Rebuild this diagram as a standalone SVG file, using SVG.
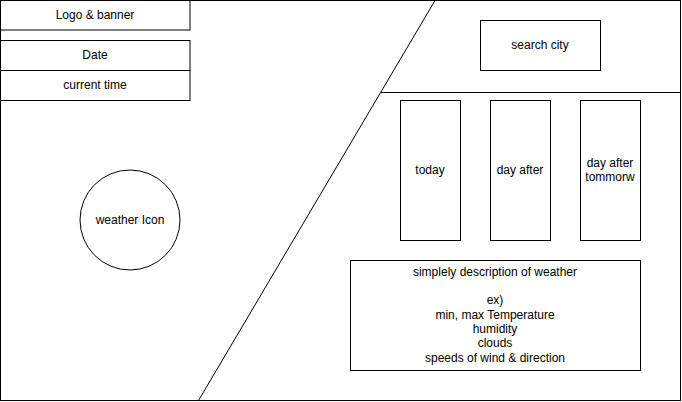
<svg xmlns="http://www.w3.org/2000/svg" width="682" height="402" viewBox="0 0 682 402">
<style>
.b{fill:#fff;stroke:#000;stroke-width:1}
.l{fill:none;stroke:#000;stroke-width:1}
text{font-family:"Liberation Sans",Arial,Helvetica,sans-serif;font-size:12px;fill:#000;text-anchor:middle}
</style>
<rect width="682" height="402" fill="#fff"/>
<g id="frame"><rect class="b" x="0.5" y="0.5" width="680" height="400"/></g>
<g id="connectors">
<line class="l" x1="435" y1="0.5" x2="198.5" y2="400.5"/>
<line class="l" x1="381" y1="92.5" x2="680.5" y2="92.5"/>
</g>
<g id="logo"><rect class="b" x="0.5" y="0.5" width="189.5" height="29.5"/><text x="95" y="19">Logo &amp; banner</text></g>
<g id="date"><rect class="b" x="0.5" y="40.5" width="189.5" height="30"/><text x="95" y="59">Date</text></g>
<g id="time"><rect class="b" x="0.5" y="70.5" width="189.5" height="30"/><text x="95" y="89">current time</text></g>
<g id="search"><rect class="b" x="480.5" y="20.5" width="120" height="50"/><text x="540" y="49">search city</text></g>
<g id="today"><rect class="b" x="400.5" y="100.5" width="60" height="140"/><text x="430" y="174">today</text></g>
<g id="dayafter"><rect class="b" x="490.5" y="100.5" width="60" height="140"/><text x="520" y="174">day after</text></g>
<g id="dayafter2"><rect class="b" x="580.5" y="100.5" width="60" height="140"/><text x="610" y="167">day after</text><text x="610" y="181">tommorw</text></g>
<g id="icon"><circle class="b" cx="130" cy="220" r="50"/><text x="130" y="224">weather Icon</text></g>
<g id="desc"><rect class="b" x="350.5" y="260.5" width="290" height="110"/>
<text x="495" y="275.5">simplely description of weather</text>
<text x="495" y="304">ex)</text>
<text x="495" y="318.5">min, max Temperature</text>
<text x="495" y="333">humidity</text>
<text x="495" y="347">clouds</text>
<text x="495" y="361.5">speeds of wind &amp; direction</text>
</g>
</svg>
